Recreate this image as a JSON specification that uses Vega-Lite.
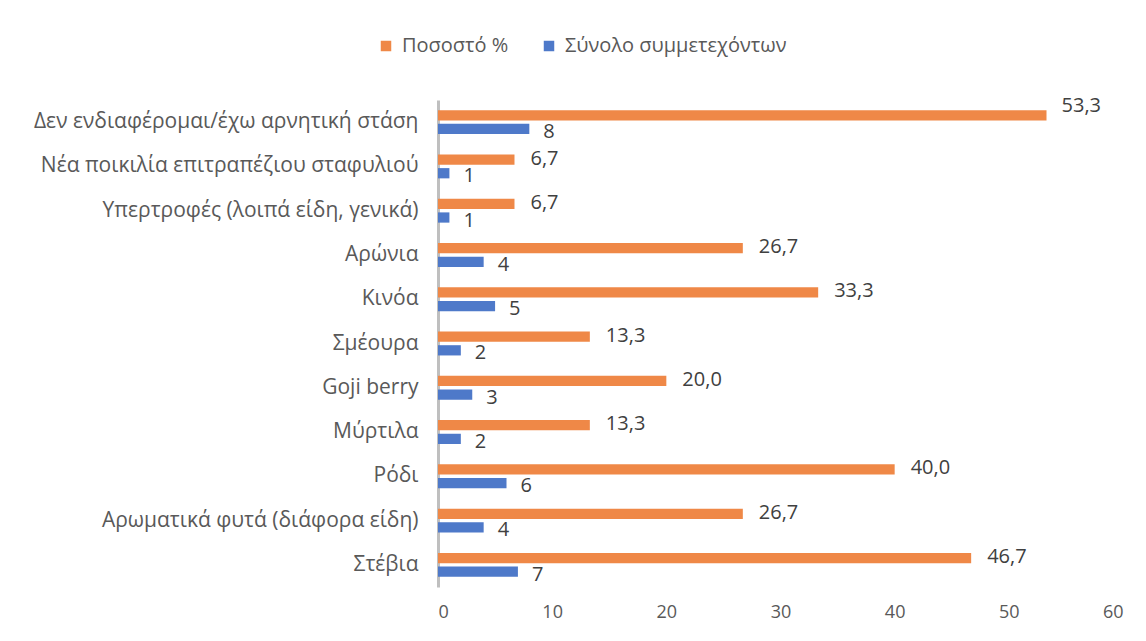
{
  "$schema": "https://vega.github.io/schema/vega-lite/v6.json",
  "autosize": "none",
  "width": 685,
  "height": 487,
  "padding": {"left": 438, "top": 100, "right": 23, "bottom": 54},
  "background": "white",
  "config": {
    "view": {"stroke": null},
    "font": "Open Sans"
  },
  "data": {
    "values": [
      {"category": "Δεν ενδιαφέρομαι/έχω αρνητική στάση", "series": "Ποσοστό %", "value": 53.3, "label": "53,3"},
      {"category": "Δεν ενδιαφέρομαι/έχω αρνητική στάση", "series": "Σύνολο συμμετεχόντων", "value": 8, "label": "8"},
      {"category": "Νέα ποικιλία επιτραπέζιου σταφυλιού", "series": "Ποσοστό %", "value": 6.7, "label": "6,7"},
      {"category": "Νέα ποικιλία επιτραπέζιου σταφυλιού", "series": "Σύνολο συμμετεχόντων", "value": 1, "label": "1"},
      {"category": "Υπερτροφές (λοιπά είδη, γενικά)", "series": "Ποσοστό %", "value": 6.7, "label": "6,7"},
      {"category": "Υπερτροφές (λοιπά είδη, γενικά)", "series": "Σύνολο συμμετεχόντων", "value": 1, "label": "1"},
      {"category": "Αρώνια ", "series": "Ποσοστό %", "value": 26.7, "label": "26,7"},
      {"category": "Αρώνια ", "series": "Σύνολο συμμετεχόντων", "value": 4, "label": "4"},
      {"category": "Κινόα", "series": "Ποσοστό %", "value": 33.3, "label": "33,3"},
      {"category": "Κινόα", "series": "Σύνολο συμμετεχόντων", "value": 5, "label": "5"},
      {"category": "Σμέουρα", "series": "Ποσοστό %", "value": 13.3, "label": "13,3"},
      {"category": "Σμέουρα", "series": "Σύνολο συμμετεχόντων", "value": 2, "label": "2"},
      {"category": "Goji berry", "series": "Ποσοστό %", "value": 20.0, "label": "20,0"},
      {"category": "Goji berry", "series": "Σύνολο συμμετεχόντων", "value": 3, "label": "3"},
      {"category": "Μύρτιλα", "series": "Ποσοστό %", "value": 13.3, "label": "13,3"},
      {"category": "Μύρτιλα", "series": "Σύνολο συμμετεχόντων", "value": 2, "label": "2"},
      {"category": "Ρόδι", "series": "Ποσοστό %", "value": 40.0, "label": "40,0"},
      {"category": "Ρόδι", "series": "Σύνολο συμμετεχόντων", "value": 6, "label": "6"},
      {"category": "Αρωματικά φυτά (διάφορα είδη)", "series": "Ποσοστό %", "value": 26.7, "label": "26,7"},
      {"category": "Αρωματικά φυτά (διάφορα είδη)", "series": "Σύνολο συμμετεχόντων", "value": 4, "label": "4"},
      {"category": "Στέβια", "series": "Ποσοστό %", "value": 46.7, "label": "46,7"},
      {"category": "Στέβια", "series": "Σύνολο συμμετεχόντων", "value": 7, "label": "7"}
    ]
  },
  "encoding": {
    "y": {
      "field": "category",
      "type": "nominal",
      "sort": null,
      "scale": {"paddingInner": 0.46, "paddingOuter": 0.23},
      "axis": {
        "title": null,
        "ticks": false,
        "domainColor": "#bfbfbf",
        "domainWidth": 3,
        "labelFontSize": 21,
        "labelColor": "#595959",
        "labelPadding": 20,
        "labelFont": "Open Sans",
        "labelLimit": 430
      }
    },
    "x": {
      "field": "value",
      "type": "quantitative",
      "scale": {"domain": [0, 60], "nice": false},
      "axis": {
        "title": null,
        "values": [0, 10, 20, 30, 40, 50, 60],
        "grid": false,
        "domain": false,
        "ticks": false,
        "labelFontSize": 18,
        "labelColor": "#595959",
        "labelPadding": 16,
        "labelFont": "Open Sans"
      }
    },
    "yOffset": {
      "field": "series",
      "type": "nominal",
      "sort": ["Ποσοστό %", "Σύνολο συμμετεχόντων"],
      "scale": {"paddingInner": 0.25}
    }
  },
  "layer": [
    {
      "mark": {"type": "bar"},
      "encoding": {
        "color": {
          "field": "series",
          "type": "nominal",
          "sort": ["Ποσοστό %", "Σύνολο συμμετεχόντων"],
          "scale": {"domain": ["Ποσοστό %", "Σύνολο συμμετεχόντων"], "range": ["#EF8847", "#4E79C9"]},
          "legend": {
            "title": null,
            "orient": "none",
            "direction": "horizontal",
            "legendX": -62,
            "legendY": -64,
            "symbolType": "square",
            "symbolSize": 110,
            "symbolStrokeWidth": 0,
            "labelFontSize": 20,
            "labelColor": "#595959",
            "labelFont": "Open Sans",
            "labelLimit": 400,
            "columnPadding": 30,
            "labelOffset": 6
          }
        }
      }
    },
    {
      "transform": [{"filter": "datum.series === 'Ποσοστό %' && datum.value < 50"}],
      "mark": {"type": "text", "align": "left", "dx": 16, "dy": -1, "fontSize": 20, "color": "#404040", "font": "Open Sans"},
      "encoding": {"text": {"field": "label"}}
    },
    {
      "transform": [{"filter": "datum.series === 'Ποσοστό %' && datum.value >= 50"}],
      "mark": {"type": "text", "align": "left", "dx": 15, "dy": -9, "fontSize": 20, "color": "#404040", "font": "Open Sans"},
      "encoding": {"text": {"field": "label"}}
    },
    {
      "transform": [{"filter": "datum.series === 'Σύνολο συμμετεχόντων'"}],
      "mark": {"type": "text", "align": "left", "dx": 14, "dy": 3, "fontSize": 20, "color": "#404040", "font": "Open Sans"},
      "encoding": {"text": {"field": "label"}}
    }
  ]
}
